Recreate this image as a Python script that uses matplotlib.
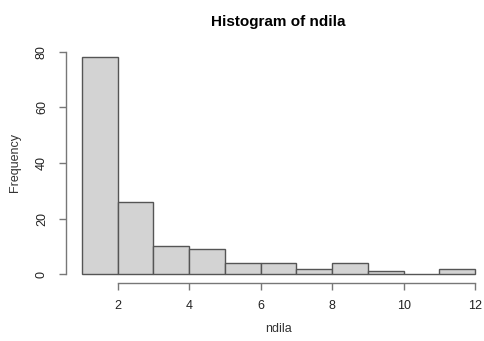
import matplotlib.pyplot as plt

plt.rcParams['font.family'] = ['Liberation Sans', 'DejaVu Sans']

# histogram of ndila, unit-width bins from 1 to 12
bin_edges = [1, 2, 3, 4, 5, 6, 7, 8, 9, 10, 11, 12]
counts = [78, 26, 10, 9, 4, 4, 2, 4, 1, 0, 2]
x_ticks = [2, 4, 6, 8, 10, 12]
y_ticks = [0, 20, 40, 60, 80]

fig = plt.figure(figsize=(4.84, 3.41), dpi=100)
ax = fig.add_axes([66 / 484, 1 - 283 / 341, (491 - 66) / 484, (283 - 43) / 341])

lefts = bin_edges[:-1]
widths = [b - a for a, b in zip(bin_edges[:-1], bin_edges[1:])]
ax.bar(lefts, counts, width=widths, align='edge', color='#d3d3d3',
       edgecolor='#555555', linewidth=1.0)

ax.set_xlim(1 - 0.04 * 11, 12 + 0.04 * 11)
ax.set_ylim(-0.04 * 80, 80 * 1.04)

# R-style axes: spines only cover the tick range
for side in ['top', 'right']:
    ax.spines[side].set_visible(False)
ax.spines['left'].set_bounds(0, 80)
ax.spines['bottom'].set_bounds(2, 12)
for side in ['left', 'bottom']:
    ax.spines[side].set_color('#777777')
    ax.spines[side].set_linewidth(1.0)

ax.set_xticks(x_ticks)
ax.set_yticks(y_ticks)
ax.set_yticklabels([str(v) for v in y_ticks], rotation=90, va='center')
ax.tick_params(axis='both', length=5, width=1.0, color='#777777',
               labelsize=9, labelcolor='#222222')
ax.tick_params(axis='x', pad=7)
ax.tick_params(axis='y', pad=8)

ax.set_title('Histogram of ndila', fontsize=11, fontweight='bold', pad=12)
ax.set_xlabel('ndila', fontsize=9, color='#333333', labelpad=8)
ax.set_ylabel('Frequency', fontsize=9, color='#333333', labelpad=11)

fig.savefig('out.png', dpi=100)
